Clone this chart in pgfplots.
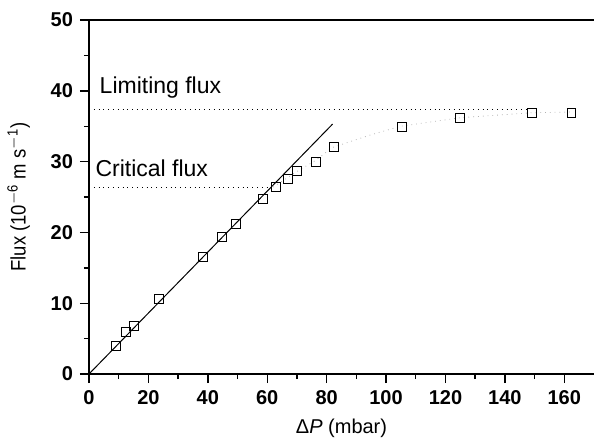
\documentclass[border=0pt]{standalone}
\usepackage{fontspec}
\setmainfont{Liberation Sans}
\newfontfamily\lblfont{Liberation Sans}[FakeStretch=0.88]
\usepackage{pgfplots}
\pgfplotsset{compat=1.18}

\begin{document}
\begin{tikzpicture}
  \begin{axis}[
      scale only axis,
      width=252.5pt, height=177pt,
      xmin=0, xmax=170,
      ymin=0, ymax=50,
      axis x line=bottom, axis y line=left,
      axis line style={-, line width=0.8pt},
      xtick={0,20,...,160},
      ytick={0,10,...,50},
      minor x tick num=1, minor y tick num=1,
      tick align=outside,
      major tick length=4.5pt, minor tick length=2.5pt,
      tick style={black, line width=0.7pt},
      tick label style={font=\bfseries\fontsize{10}{12}\selectfont},
      /pgf/number format/assume math mode=true,
      xlabel={Δ\textit{P} (mbar)},
      ylabel={Flux (10\textsuperscript{$-$6} m s\textsuperscript{$-$1})},
      xlabel style={font=\fontsize{10}{12}\selectfont, at={(axis description cs:0.5,0)}, anchor=north, yshift=-19pt},
      ylabel style={font=\lblfont\fontsize{10.5}{12}\selectfont, at={(axis description cs:0,0.5)}, anchor=south, yshift=26pt},
      clip=false,
    ]
    % top frame line
    \draw[line width=0.9pt] (rel axis cs:0,1) -- (rel axis cs:1,1);
    % limiting and critical flux levels
    \addplot[black, dotted, thin] coordinates {(0,37.4) (148,37.4)};
    \addplot[black, dotted, thin] coordinates {(0,26.4) (62,26.4)};
    % linear fit
    \addplot[black, line width=0.5pt] coordinates {(0,0) (82,35.3)};
    % faint trend curve
    \addplot[gray!60, dotted, thin] coordinates {
      (62,26.4) (70,28.6) (76,30.1) (82,32.0) (95,33.8) (105,35.0)
      (125,36.2) (149,36.9) (162,37.0)};
    % measured flux
    \addplot[only marks, mark=square, mark size=2.2pt, black, mark options={line width=0.5pt}]
      coordinates {
        (9.1,3.95) (12.4,5.9) (15.1,6.8) (23.5,10.6) (38.3,16.5)
        (44.7,19.3) (49.4,21.2) (58.5,24.7) (62.9,26.4) (66.9,27.5)
        (69.9,28.7) (76.3,29.9) (82.4,32.1) (105.5,34.9) (125,36.2)
        (149.2,36.9) (162.4,36.9)};
    \node[anchor=west, font=\fontsize{11.5}{12}\selectfont, inner sep=1pt] at (axis cs:2.8,40.4) {Limiting flux};
    \node[anchor=west, font=\fontsize{11.5}{12}\selectfont, inner sep=1pt] at (axis cs:1.4,29.0) {Critical flux};
  \end{axis}
  \pgfresetboundingbox
  \path (-44.5pt,-35.5pt) rectangle (252.5pt,187pt);
\end{tikzpicture}
\end{document}
